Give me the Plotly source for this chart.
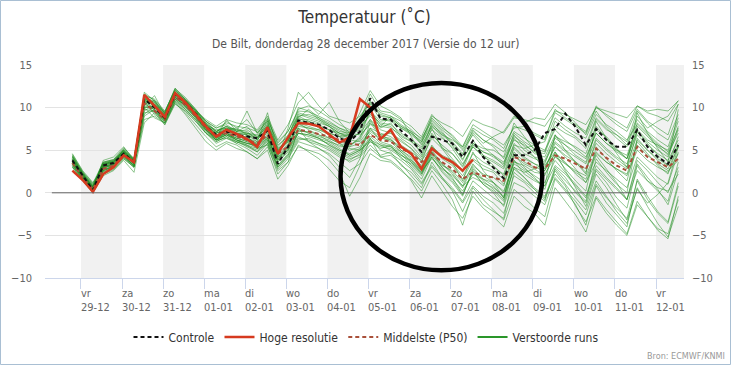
import plotly.graph_objects as go
import pandas as pd

# ---------------- data ----------------
start_time = "2017-12-28 19:00"
n_steps = 60
times = pd.date_range(start_time, periods=n_steps, freq="6h")

tick_dates = ["2017-12-29", "2017-12-30", "2017-12-31", "2018-01-01", "2018-01-02",
              "2018-01-03", "2018-01-04", "2018-01-05", "2018-01-06", "2018-01-07",
              "2018-01-08", "2018-01-09", "2018-01-10", "2018-01-11", "2018-01-12"]
tick_days = ["vr", "za", "zo", "ma", "di", "wo", "do", "vr", "za", "zo", "ma", "di", "wo", "do", "vr"]
tick_labels = ["29-12", "30-12", "31-12", "01-01", "02-01", "03-01", "04-01", "05-01",
               "06-01", "07-01", "08-01", "09-01", "10-01", "11-01", "12-01"]
y_ticks = [-10, -5, 0, 5, 10, 15]

controle = [3.8, 2.0, 0.3, 3.2, 3.5, 4.6, 3.6,
            11.0, 10.0, 8.8, 11.6, 10.6, 9.3, 7.8, 6.8, 7.2, 6.8, 6.6, 6.4, 7.3,
            3.4, 5.4, 8.5, 8.2, 8.0, 7.4, 6.4, 6.0, 7.2, 11.1, 8.7, 8.6,
            7.3, 6.2, 4.8, 6.6, 6.2, 5.8, 4.2, 6.1, 4.2, 3.0, 1.7, 4.4,
            4.4, 5.0, 7.0, 7.5, 9.3, 7.7, 5.6, 7.5, 6.2, 5.4, 5.4, 7.4, 5.4, 4.2, 3.4, 5.6]

hoge_resolutie = [2.6, 1.5, 0.1, 2.2, 3.0, 4.4, 3.6,
                  11.5, 10.2, 8.9, 11.7, 10.6, 9.2, 7.8, 6.6, 7.4, 6.9, 6.3, 5.4, 7.7,
                  4.6, 6.5, 8.2, 8.1, 7.8, 6.8, 5.9, 6.5, 11.0, 10.0, 6.3, 7.4,
                  5.4, 4.6, 2.8, 5.2, 4.2, 3.6, 2.6, 3.9]

middelste = [3.5, 1.8, 0.4, 2.8, 3.2, 4.5, 3.5,
             10.5, 9.6, 8.6, 11.3, 10.3, 9.0, 7.6, 6.6, 7.0, 6.6, 6.2, 5.8, 6.8,
             4.6, 5.4, 7.4, 7.2, 6.9, 6.6, 6.2, 5.8, 5.6, 6.8, 6.2, 6.0,
             5.2, 4.6, 3.6, 4.6, 3.6, 2.8, 1.6, 2.4, 2.0, 1.8, 1.4, 4.2,
             3.8, 3.0, 2.8, 4.4, 4.0, 3.4, 2.8, 5.2, 4.1, 3.2, 2.6, 5.4, 4.2, 3.6, 3.0, 4.0]

member_01 = [4.2, 2.3, 0.8, 3.5, 3.8, 5.0, 3.9,
             11.8, 10.8, 9.5, 12.2, 11.0, 9.8, 8.2, 7.2, 7.8, 7.4, 7.0, 6.8, 8.6,
             6.0, 7.2, 9.6, 9.5, 9.0, 8.4, 7.6, 7.2, 8.8, 10.8, 9.4, 9.0,
             8.4, 7.4, 6.2, 8.8, 7.6, 6.8, 5.4, 8.0, 7.2, 6.4, 5.6, 7.6,
             7.8, 7.0, 6.4, 9.4, 8.6, 7.8, 7.0, 10.2, 9.0, 8.0, 7.2, 9.8, 8.4, 7.6, 6.8, 10.4]
member_02 = [3.4, 1.6, 0.2, 2.5, 2.8, 4.0, 3.0,
             9.0, 9.8, 8.2, 10.8, 9.8, 8.6, 7.0, 6.0, 6.6, 6.0, 5.5, 5.0, 6.0,
             3.0, 4.2, 6.2, 6.4, 5.8, 5.2, 4.4, 3.6, 4.2, 5.6, 4.4, 4.8,
             3.2, 2.4, 1.0, 3.0, 1.6, 0.4, -1.2, 0.8, -0.4, -1.2, -2.4, 1.2,
             0.6, -0.4, -1.4, 1.8, 0.4, -1.0, -2.6, 1.0, -0.6, -1.8, -3.0, 1.4, -0.8, -2.4, -3.6, 0.8]
member_03 = [4.6, 2.6, 1.2, 3.0, 3.4, 5.2, 4.0,
             10.2, 11.4, 9.2, 12.0, 10.8, 9.6, 8.4, 7.6, 8.0, 7.2, 7.8, 6.4, 8.0,
             5.0, 6.0, 9.0, 8.4, 7.6, 7.0, 6.6, 6.8, 8.2, 9.6, 8.0, 7.8,
             6.4, 5.6, 4.2, 7.0, 5.4, 4.0, 2.6, 5.6, 4.8, 4.4, 3.2, 6.6,
             5.8, 4.6, 4.2, 6.8, 5.6, 4.4, 3.6, 7.4, 6.6, 5.2, 4.0, 8.2, 7.0, 5.8, 4.8, 7.6]
member_04 = [3.0, 1.4, 0.0, 2.0, 2.6, 3.8, 2.4,
             8.2, 9.4, 8.0, 10.6, 9.4, 8.0, 6.6, 5.4, 6.0, 5.6, 4.8, 4.0, 5.4,
             2.6, 3.6, 5.4, 5.0, 4.6, 3.8, 2.4, -0.4, 1.8, 4.6, 3.8, 3.6,
             2.6, 1.6, 0.2, 2.6, 1.0, -0.8, -3.8, 0.2, -1.4, -2.2, -3.0, 2.4,
             1.4, 0.4, -0.6, 3.0, 1.8, 0.0, -1.2, 2.6, 1.2, -0.6, -1.8, 3.2, 1.4, 0.2, -1.0, 3.6]
member_05 = [3.9, 2.1, 0.6, 3.8, 4.2, 5.4, 3.8,
             11.2, 10.6, 9.0, 11.4, 10.4, 9.4, 8.0, 7.0, 8.4, 7.6, 6.8, 6.0, 9.4,
             4.8, 6.4, 10.0, 9.6, 8.6, 7.8, 6.6, 5.6, 6.4, 9.8, 7.6, 8.2,
             6.6, 6.0, 4.8, 8.2, 6.8, 5.8, 4.4, 7.0, 5.8, 6.6, 7.2, 9.0,
             8.2, 8.8, 8.6, 10.4, 9.4, 8.2, 6.8, 9.6, 7.8, 6.8, 5.6, 9.0, 7.6, 8.4, 9.0, 10.8]
member_06 = [3.6, 2.0, 0.5, 2.6, 3.0, 4.2, 3.2,
             10.8, 9.2, 8.4, 11.0, 10.0, 8.8, 7.2, 6.2, 6.8, 6.4, 6.0, 5.2, 6.4,
             4.0, 5.0, 7.0, 6.8, 6.4, 6.0, 5.6, 5.2, 5.0, 6.0, 5.4, 5.2,
             4.4, 3.8, 2.6, 4.0, 2.8, 2.0, 0.8, 1.8, 1.2, 0.6, -0.4, 3.6,
             3.2, 2.4, 2.2, 4.2, 3.4, 2.6, 2.0, 4.8, 3.6, 2.8, 2.0, 5.0, 3.8, 3.0, 2.4, 4.6]
member_07 = [4.4, 2.4, 0.9, 3.3, 3.6, 4.8, 3.4,
             10.0, 10.2, 8.6, 11.8, 10.8, 9.6, 8.0, 6.6, 7.0, 6.2, 5.8, 5.6, 6.6,
             3.8, 5.2, 7.8, 7.6, 7.2, 6.4, 5.8, 5.0, 5.4, 7.4, 6.6, 6.0,
             4.8, 3.6, 2.2, 4.8, 3.4, 2.2, 0.6, 3.0, 1.6, 0.8, -0.6, 2.8,
             1.8, 0.6, -0.4, 2.2, 0.8, -1.6, -3.4, -0.4, -2.0, -3.4, -4.8, -1.0, -2.8, -4.4, -5.4, -0.4]
member_08 = [3.2, 1.8, 0.4, 3.0, 3.2, 4.6, 3.6,
             10.6, 10.0, 9.0, 11.6, 10.4, 9.2, 7.6, 6.8, 7.2, 6.6, 6.4, 6.0, 7.0,
             4.4, 5.8, 8.0, 7.6, 7.4, 7.0, 6.6, 6.2, 6.0, 7.6, 7.0, 6.6,
             5.6, 4.8, 3.8, 5.4, 4.4, 3.8, 2.4, 4.6, 3.6, 3.0, 2.2, 5.8,
             4.6, 4.0, 3.6, 6.0, 5.0, 4.2, 3.4, 6.4, 5.2, 4.2, 3.4, 6.8, 5.6, 4.6, 3.8, 6.2]
member_09 = [3.7, 1.9, 0.2, 2.4, 2.9, 4.3, 3.3,
             9.6, 10.4, 8.8, 11.2, 10.2, 9.0, 7.4, 6.4, 7.0, 6.2, 5.6, 4.8, 6.2,
             3.2, 4.6, 6.6, 6.0, 5.6, 5.0, 4.2, 3.8, 4.6, 6.4, 5.0, 4.6,
             3.8, 2.8, 1.2, 3.2, 1.8, 0.6, -1.0, 1.4, 0.4, -0.6, -1.4, 3.0,
             2.4, 2.8, 3.4, 6.6, 6.0, 5.4, 4.6, 7.8, 6.4, 5.0, 4.0, 7.4, 6.2, 5.6, 5.0, 8.4]
member_10 = [4.0, 2.2, 0.7, 3.6, 3.9, 5.1, 3.9,
             11.4, 10.4, 9.4, 12.0, 10.9, 9.6, 8.0, 7.4, 7.6, 7.2, 7.4, 6.6, 8.2,
             5.4, 6.8, 9.0, 9.2, 8.8, 8.0, 7.4, 6.8, 7.4, 10.4, 8.6, 8.4,
             7.6, 6.8, 5.8, 8.6, 7.4, 6.4, 5.0, 6.8, 5.4, 4.4, 3.6, 6.2,
             5.6, 4.8, 4.6, 7.8, 7.0, 6.4, 5.2, 8.6, 7.4, 6.8, 6.0, 9.6, 8.2, 7.0, 6.2, 9.2]
member_11 = [3.3, 1.7, 0.3, 2.8, 3.1, 4.4, 3.1,
             9.8, 9.6, 8.4, 11.0, 9.8, 8.6, 7.2, 6.0, 6.6, 5.8, 5.2, 4.4, 5.8,
             2.8, 4.0, 6.0, 5.6, 5.2, 4.6, 3.6, 2.6, 3.4, 5.2, 4.2, 4.4,
             3.4, 2.0, 0.6, 3.6, 1.8, 0.2, -2.2, 0.6, -0.8, -2.0, -3.2, 0.4,
             -0.6, -1.8, -2.8, 1.6, 0.2, -1.4, -3.8, 0.8, -1.2, -2.6, -4.0, 1.6, -0.4, -2.2, -3.4, 1.2]
member_12 = [4.3, 2.4, 1.0, 3.4, 3.7, 4.9, 3.7,
             11.6, 10.8, 9.2, 11.6, 10.8, 9.4, 8.0, 7.0, 7.4, 7.0, 7.0, 6.6, 7.8,
             5.2, 6.2, 8.6, 8.6, 8.2, 7.8, 7.0, 6.6, 7.8, 9.0, 7.8, 7.6,
             6.8, 6.0, 5.2, 7.4, 6.4, 5.4, 4.0, 5.8, 4.8, 4.2, 3.4, 7.0,
             6.0, 5.2, 4.8, 8.4, 7.4, 6.6, 5.6, 8.8, 7.6, 6.4, 5.4, 8.6, 7.2, 6.2, 5.4, 8.8]
member_13 = [3.5, 1.9, 0.5, 2.9, 3.3, 4.7, 3.4,
             10.4, 9.8, 8.6, 11.4, 10.2, 9.0, 7.4, 6.4, 7.0, 6.6, 6.6, 5.6, 7.2,
             4.2, 5.6, 7.6, 7.0, 6.6, 6.2, 5.4, 5.4, 6.6, 8.2, 6.6, 6.4,
             5.0, 4.2, 3.0, 5.6, 4.0, 3.2, 1.6, 3.8, 2.8, 2.4, 1.0, 4.8,
             3.6, 3.0, 2.6, 4.6, 3.6, 2.2, 1.2, 3.6, 2.6, 1.6, 0.6, 4.2, 3.0, 1.8, 1.0, 4.8]
member_14 = [3.8, 2.1, 0.6, 3.1, 3.5, 4.8, 3.7,
             11.2, 10.2, 9.0, 11.8, 10.6, 9.2, 7.8, 7.0, 7.4, 7.6, 8.6, 7.0, 8.6,
             5.8, 7.2, 9.8, 10.2, 9.6, 8.8, 8.0, 7.4, 8.4, 11.6, 9.6, 9.4,
             8.6, 7.8, 6.6, 9.2, 7.8, 6.6, 5.2, 7.2, 6.2, 5.4, 4.0, 6.8,
             5.4, 4.2, 2.8, 5.4, 4.2, 2.8, 1.2, 4.4, 2.8, 1.2, -0.8, 3.4, 1.8, 0.4, -1.4, 2.6]
member_15 = [3.1, 1.5, 0.1, 2.6, 3.0, 4.1, 3.2,
             9.4, 9.6, 8.0, 10.4, 9.6, 8.4, 7.0, 6.2, 6.8, 6.2, 5.8, 5.6, 6.4,
             3.6, 4.8, 7.0, 6.6, 6.2, 5.8, 5.0, 4.4, 5.0, 6.2, 5.6, 5.4,
             4.6, 3.2, 2.0, 4.4, 3.0, 1.6, 0.2, 2.2, 1.6, 1.2, 0.2, 3.4,
             2.6, 1.6, 0.8, 3.2, 2.2, 0.8, -0.6, 2.8, 1.6, 0.4, -0.8, 3.8, 2.6, 1.2, 0.0, 3.0]
member_16 = [4.1, 2.2, 0.6, 3.3, 3.6, 4.7, 3.8,
             11.0, 10.6, 9.4, 12.2, 11.2, 9.8, 8.4, 7.2, 7.6, 7.0, 6.8, 6.2, 7.6,
             4.8, 6.2, 8.8, 8.2, 7.8, 7.4, 7.0, 6.8, 7.6, 9.2, 8.2, 8.0,
             7.0, 6.2, 5.4, 7.8, 6.8, 6.2, 5.4, 7.6, 6.8, 6.2, 5.2, 7.8,
             7.4, 6.8, 6.2, 9.8, 8.8, 8.0, 7.2, 10.0, 9.2, 8.4, 7.6, 10.2, 9.4, 9.0, 8.4, 10.4]
member_17 = [3.6, 1.8, 0.3, 2.7, 3.1, 4.5, 3.4,
             10.0, 10.0, 8.4, 11.2, 10.0, 8.8, 7.4, 6.4, 6.8, 6.0, 5.6, 5.2, 6.2,
             3.2, 4.4, 7.0, 6.8, 6.4, 5.6, 4.8, 4.2, 4.8, 6.6, 5.6, 5.0,
             4.2, 3.0, 1.6, 4.2, 2.4, 1.2, -0.4, 2.8, 1.4, 0.4, -0.8, 4.6,
             3.0, 1.8, 0.4, 4.4, 2.8, 1.4, 0.2, 5.4, 4.0, 2.6, 1.4, 6.0, 4.6, 3.2, 2.2, 5.6]
member_18 = [3.4, 1.7, 0.4, 3.0, 3.3, 4.6, 3.5,
             10.8, 10.2, 8.8, 11.6, 10.6, 9.2, 7.8, 6.8, 7.2, 6.8, 6.4, 5.8, 7.4,
             4.0, 5.4, 8.2, 7.8, 7.4, 6.8, 6.0, 5.6, 6.2, 8.6, 6.8, 6.2,
             5.0, 4.0, 2.6, 4.8, 3.0, 1.8, -0.2, 2.6, 1.0, 0.0, -1.6, 2.0,
             1.2, 0.0, -1.0, 2.8, 1.4, 0.2, -1.0, 4.0, 2.4, 1.0, 0.0, 6.4, 5.0, 3.8, 2.8, 5.4]
member_19 = [4.5, 2.5, 1.1, 3.6, 3.9, 5.3, 4.0,
             11.4, 11.0, 9.6, 12.0, 11.0, 9.8, 8.4, 7.6, 8.2, 7.8, 7.6, 7.2, 8.8,
             5.6, 6.6, 9.4, 9.0, 8.6, 8.0, 7.2, 7.0, 8.6, 10.6, 9.0, 8.8,
             7.8, 7.0, 6.0, 8.0, 7.0, 6.0, 4.6, 7.4, 6.2, 5.6, 4.8, 7.2,
             6.4, 5.6, 5.0, 7.4, 6.2, 5.2, 4.2, 7.0, 5.8, 5.0, 4.4, 7.8, 6.6, 5.4, 4.6, 7.0]
member_20 = [3.0, 1.6, 0.2, 2.2, 2.7, 4.0, 3.0,
             8.6, 9.0, 8.2, 10.8, 9.6, 8.4, 7.0, 5.8, 6.4, 6.0, 5.4, 4.8, 5.8,
             3.0, 4.4, 6.4, 6.2, 5.8, 5.4, 4.6, 4.0, 4.4, 6.0, 5.2, 5.6,
             4.0, 3.4, 2.2, 4.6, 3.2, 2.6, 1.2, 3.2, 2.2, 1.8, 0.8, 4.4,
             3.4, 2.8, 2.0, 4.8, 3.4, 2.4, 1.6, 4.6, 3.6, 2.8, 2.2, 5.6, 4.4, 3.4, 2.6, 3.8]
member_21 = [3.9, 2.0, 0.5, 3.4, 3.7, 4.9, 3.9,
             11.0, 10.4, 9.2, 11.8, 10.8, 9.6, 8.2, 7.2, 7.8, 7.0, 6.8, 6.4, 8.0,
             5.0, 6.4, 9.2, 8.8, 8.4, 7.8, 7.0, 6.4, 7.0, 9.6, 8.4, 8.6,
             7.6, 7.0, 6.0, 9.0, 8.2, 7.6, 6.6, 8.6, 8.0, 7.6, 7.0, 8.8,
             8.6, 8.2, 7.8, 9.6, 9.2, 8.6, 8.0, 10.0, 9.6, 9.2, 8.8, 10.2, 9.6, 9.8, 9.6, 10.8]
member_22 = [3.6, 1.9, 0.4, 3.1, 3.4, 4.5, 3.3,
             10.6, 9.4, 8.6, 11.2, 10.2, 9.0, 7.6, 6.6, 7.0, 6.4, 6.2, 5.6, 6.8,
             4.2, 5.2, 7.2, 7.2, 6.8, 6.4, 5.8, 5.4, 5.8, 7.2, 6.4, 6.2,
             5.4, 4.4, 3.2, 5.4, 4.2, 3.4, 2.0, 4.0, 3.2, 2.6, 1.6, 5.4,
             4.2, 3.4, 3.0, 5.4, 4.4, 3.6, 2.8, 5.8, 4.6, 3.6, 2.8, 6.2, 5.0, 4.0, 3.2, 5.8]
member_23 = [3.7, 1.9, 0.5, 2.9, 3.3, 4.6, 3.5,
             10.2, 9.8, 8.6, 11.4, 10.4, 9.0, 7.4, 6.2, 6.8, 6.2, 5.8, 5.4, 6.4,
             3.6, 5.0, 7.4, 7.0, 6.4, 5.6, 5.0, 4.6, 5.2, 7.0, 5.8, 5.4,
             4.4, 3.6, 2.4, 4.2, 2.6, 1.4, -0.2, 2.4, 1.0, 0.2, -1.0, 3.0,
             1.8, 0.4, -0.8, 2.6, 1.0, -0.6, -2.0, 1.4, -0.4, -2.2, -3.6, 0.6, -1.6, -3.6, -5.2, -1.6]
member_24 = [4.2, 2.2, 0.7, 3.5, 3.8, 5.0, 3.6,
             11.4, 10.4, 9.0, 11.8, 10.8, 9.4, 7.8, 7.0, 7.6, 7.4, 7.2, 6.2, 7.8,
             4.8, 6.0, 8.4, 8.4, 8.0, 7.4, 6.8, 6.4, 7.0, 8.6, 7.4, 7.0,
             6.0, 5.2, 4.0, 6.4, 5.2, 4.6, 3.2, 5.4, 4.4, 3.8, 3.0, 6.4,
             5.0, 4.2, 3.8, 6.4, 5.6, 4.8, 4.0, 7.0, 5.8, 4.8, 4.0, 7.2, 6.0, 5.0, 4.2, 7.4]
member_25 = [3.9, 2.1, 0.6, 3.2, 3.6, 4.8, 3.7,
             11.2, 10.0, 9.2, 11.4, 10.2, 9.0, 7.6, 6.4, 8.6, 7.2, 9.6, 7.0, 8.4,
             4.2, 7.6, 11.8, 10.4, 9.2, 10.6, 8.4, 7.0, 9.4, 12.0, 10.2, 9.6,
             8.8, 6.6, 4.4, 7.6, 5.2, 3.6, 1.4, 4.8, 2.6, 1.2, -0.6, 3.8,
             2.2, 1.4, 0.8, 6.8, 5.0, 3.6, 2.2, 8.4, 6.4, 4.6, 3.0, 9.4, 7.0, 5.2, 3.6, 9.8]
member_26 = [3.2, 1.6, 0.2, 2.8, 3.0, 4.2, 3.0,
             10.0, 8.8, 8.2, 10.6, 9.2, 7.6, 6.0, 5.0, 5.8, 5.2, 4.8, 4.0, 5.0,
             1.6, 3.2, 5.6, 4.8, 4.0, 2.8, 1.4, 0.6, 3.2, 6.4, 4.2, 3.8,
             2.8, 1.4, -0.6, 2.0, 0.2, -1.6, -3.0, -0.4, -1.8, -2.8, -4.0, -0.4,
             -1.6, -2.4, -3.8, 0.6, -1.0, -2.6, -4.6, -0.6, -2.4, -3.8, -5.0, -1.4, -2.8, -4.2, -4.8, -0.8]
member_27 = [4.0, 2.2, 0.7, 3.4, 3.7, 5.0, 3.8,
             10.8, 10.8, 9.4, 12.3, 11.0, 9.6, 8.6, 7.8, 8.6, 8.2, 8.0, 7.4, 9.0,
             6.2, 8.0, 10.6, 11.8, 10.2, 9.0, 8.6, 8.2, 9.0, 10.6, 9.2, 8.8,
             7.8, 7.2, 6.4, 8.4, 7.2, 5.6, 3.8, 6.2, 4.4, 3.2, 2.0, 5.2,
             4.0, 3.4, 2.6, 5.8, 4.8, 3.6, 2.4, 6.2, 5.0, 4.0, 3.0, 7.2, 5.8, 4.4, 3.2, 6.6]
member_28 = [3.5, 1.8, 0.3, 2.6, 3.1, 4.4, 3.1,
             9.2, 10.2, 8.8, 11.0, 10.4, 9.2, 7.6, 6.2, 6.4, 5.8, 6.8, 5.2, 5.6,
             2.2, 3.6, 7.6, 6.0, 5.2, 4.4, 3.0, 1.8, 4.0, 8.4, 6.8, 7.0,
             6.2, 5.2, 3.6, 6.8, 5.6, 4.6, 3.0, 5.8, 5.2, 5.0, 4.2, 8.2,
             6.6, 5.0, 3.2, 4.8, 2.6, 0.6, -1.6, 2.2, 0.6, -1.4, -3.2, 0.4, -1.2, -0.2, 1.2, 5.4]
member_29 = [4.3, 2.3, 0.8, 3.1, 3.4, 4.7, 3.6,
             10.6, 10.8, 9.0, 11.6, 10.6, 9.4, 8.0, 7.2, 7.8, 7.2, 7.0, 6.4, 8.4,
             5.2, 6.0, 8.8, 9.8, 8.8, 8.2, 7.6, 7.0, 6.8, 8.0, 7.8, 9.0,
             8.0, 7.2, 5.6, 7.8, 6.6, 5.2, 3.4, 5.4, 4.2, 3.6, 2.8, 5.6,
             5.2, 5.6, 6.0, 8.8, 7.8, 7.0, 6.4, 9.2, 8.0, 7.2, 6.2, 8.0, 6.8, 5.6, 4.4, 7.8]
member_30 = [3.6, 1.9, 0.5, 3.3, 3.6, 4.9, 3.6,
             11.0, 9.6, 8.6, 11.2, 10.2, 8.8, 7.4, 6.2, 7.0, 6.4, 6.0, 5.8, 6.6,
             3.8, 5.6, 8.2, 7.4, 6.8, 6.0, 5.2, 4.4, 5.0, 7.6, 6.0, 5.6,
             4.8, 3.8, 2.4, 5.0, 3.4, 2.4, 0.8, 3.4, 2.0, 1.2, 0.0, 3.8,
             2.8, 2.0, 1.2, 3.8, 2.4, 1.0, -0.4, 3.2, 1.8, 0.6, -0.8, 2.6, 1.4, 0.6, 0.2, 2.2]

members = [member_01, member_02, member_03, member_04, member_05, member_06,
           member_07, member_08, member_09, member_10, member_11, member_12,
           member_13, member_14, member_15, member_16, member_17, member_18,
           member_19, member_20, member_21, member_22, member_23, member_24,
           member_25, member_26, member_27, member_28, member_29, member_30]

for m in members + [controle, middelste]:
    assert len(m) == n_steps, len(m)

# ---------------- figure ----------------
FONT = "DejaVu Sans Condensed, DejaVu Sans, sans-serif"
L, R, T, B = 45, 48, 65, 88
W, H = 732, 366
PW, PH = W - L - R, H - T - B

def px_x(px):
    return (px - L) / PW

def px_y(py):
    return (H - B - py) / PH

fig = go.Figure()

green = "rgba(30,140,30,0.5)"
for k, m in enumerate(members):
    fig.add_trace(go.Scatter(x=times, y=m, mode="lines", line=dict(color=green, width=1),
                             showlegend=False, hoverinfo="skip", legendgroup="ens"))

fig.add_trace(go.Scatter(x=times, y=middelste, mode="lines", name="Middelste (P50)",
                         line=dict(color="#a9503a", width=2, dash="4px,3px"), legendrank=3))
fig.add_trace(go.Scatter(x=times, y=controle, mode="lines", name="Controle",
                         line=dict(color="#111111", width=2, dash="4px,3px"), legendrank=1))
fig.add_trace(go.Scatter(x=times[:len(hoge_resolutie)], y=hoge_resolutie, mode="lines",
                         name="Hoge resolutie", line=dict(color="#d63a1f", width=2.5), legendrank=2))
fig.add_trace(go.Scatter(x=[None], y=[None], mode="lines", name="Verstoorde runs",
                         line=dict(color="#2a962a", width=2), legendrank=4, legendgroup="ens"))
# invisible trace to activate right axis
fig.add_trace(go.Scatter(x=[times[0]], y=[0], yaxis="y2", mode="markers",
                         marker=dict(opacity=0), showlegend=False, hoverinfo="skip"))

shapes = []
# alternating grey day bands
band_days = tick_dates[0::2]
for d in band_days:
    d0 = pd.Timestamp(d)
    d1 = min(d0 + pd.Timedelta(days=1), pd.Timestamp("2018-01-12 16:20"))
    shapes.append(dict(type="rect", xref="x", yref="y", x0=d0, x1=d1, y0=-10, y1=15,
                       fillcolor="#f1f1f1", line=dict(width=0), layer="below"))
# zero line
shapes.append(dict(type="line", xref="x", yref="y", x0="2017-12-28 07:00", x1="2018-01-11 18:45",
                   y0=0, y1=0, line=dict(color="#666666", width=1), layer="above"))
# hand-drawn circle
shapes.append(dict(type="circle", xref="x", yref="y", x0="2018-01-04 07:40", x1="2018-01-09 05:30",
                   y0=-9.1, y1=12.9, line=dict(color="black", width=4.5), layer="above"))
# outer frame
shapes.append(dict(type="rect", xref="paper", yref="paper",
                   x0=px_x(0.5), x1=px_x(W - 1.5), y0=px_y(H - 1.5), y1=px_y(0.5),
                   line=dict(color="#a9bfd3", width=1), fillcolor="rgba(0,0,0,0)", layer="above"))

annotations = []
annotations.append(dict(text="De Bilt, donderdag 28 december 2017 (Versie do 12 uur)",
                        xref="paper", yref="paper", x=px_x(366), y=px_y(44),
                        xanchor="center", yanchor="middle", showarrow=False,
                        font=dict(family=FONT, size=12, color="#555555")))
annotations.append(dict(text="Bron: ECMWF/KNMI", xref="paper", yref="paper",
                        x=px_x(727), y=px_y(356), xanchor="right", yanchor="middle",
                        showarrow=False, font=dict(family=FONT, size=9, color="#999999")))
for d, day, lab in zip(tick_dates, tick_days, tick_labels):
    annotations.append(dict(text=f"{day}<br>{lab}", xref="x", yref="paper", x=d, y=0,
                            xanchor="left", yanchor="top", yshift=-7, xshift=-2, align="left",
                            showarrow=False, font=dict(family=FONT, size=11, color="#666666")))

fig.update_layout(
    width=W, height=H, autosize=False,
    margin=dict(l=L, r=R, t=T, b=B),
    paper_bgcolor="white", plot_bgcolor="white",
    title=dict(text="Temperatuur (˚C)", x=0.5, xref="paper", xanchor="center",
               y=1 - 17 / H, yref="container", yanchor="middle",
               font=dict(family=FONT, size=17, color="#333333")),
    xaxis=dict(type="date", range=["2017-12-28 03:00", "2018-01-12 16:20"],
               tickvals=tick_dates, showticklabels=False, ticks="outside", ticklen=10,
               tickcolor="#ccd6eb", showline=True, linecolor="#ccd6eb", linewidth=1,
               showgrid=False, zeroline=False),
    yaxis=dict(range=[-10, 15], tickvals=y_ticks, gridcolor="#e3e3e3", gridwidth=1,
               zeroline=False, ticks="", ticklabelstandoff=12,
               tickfont=dict(family=FONT, size=11, color="#666666")),
    yaxis2=dict(range=[-10, 15], tickvals=y_ticks, overlaying="y", side="right",
                showgrid=False, zeroline=False, ticks="", ticklabelstandoff=7,
                tickfont=dict(family=FONT, size=11, color="#666666")),
    legend=dict(orientation="h", x=px_x(366), xanchor="center", y=px_y(337), yanchor="middle",
                font=dict(family=FONT, size=12, color="#333333"), bgcolor="rgba(0,0,0,0)",
                itemwidth=30, tracegroupgap=0),
    shapes=shapes, annotations=annotations,
    hovermode=False,
)

fig.write_html("out.html", config={"displayModeBar": False},
               post_script="document.body.style.margin='0px';document.body.style.overflow='hidden';")
